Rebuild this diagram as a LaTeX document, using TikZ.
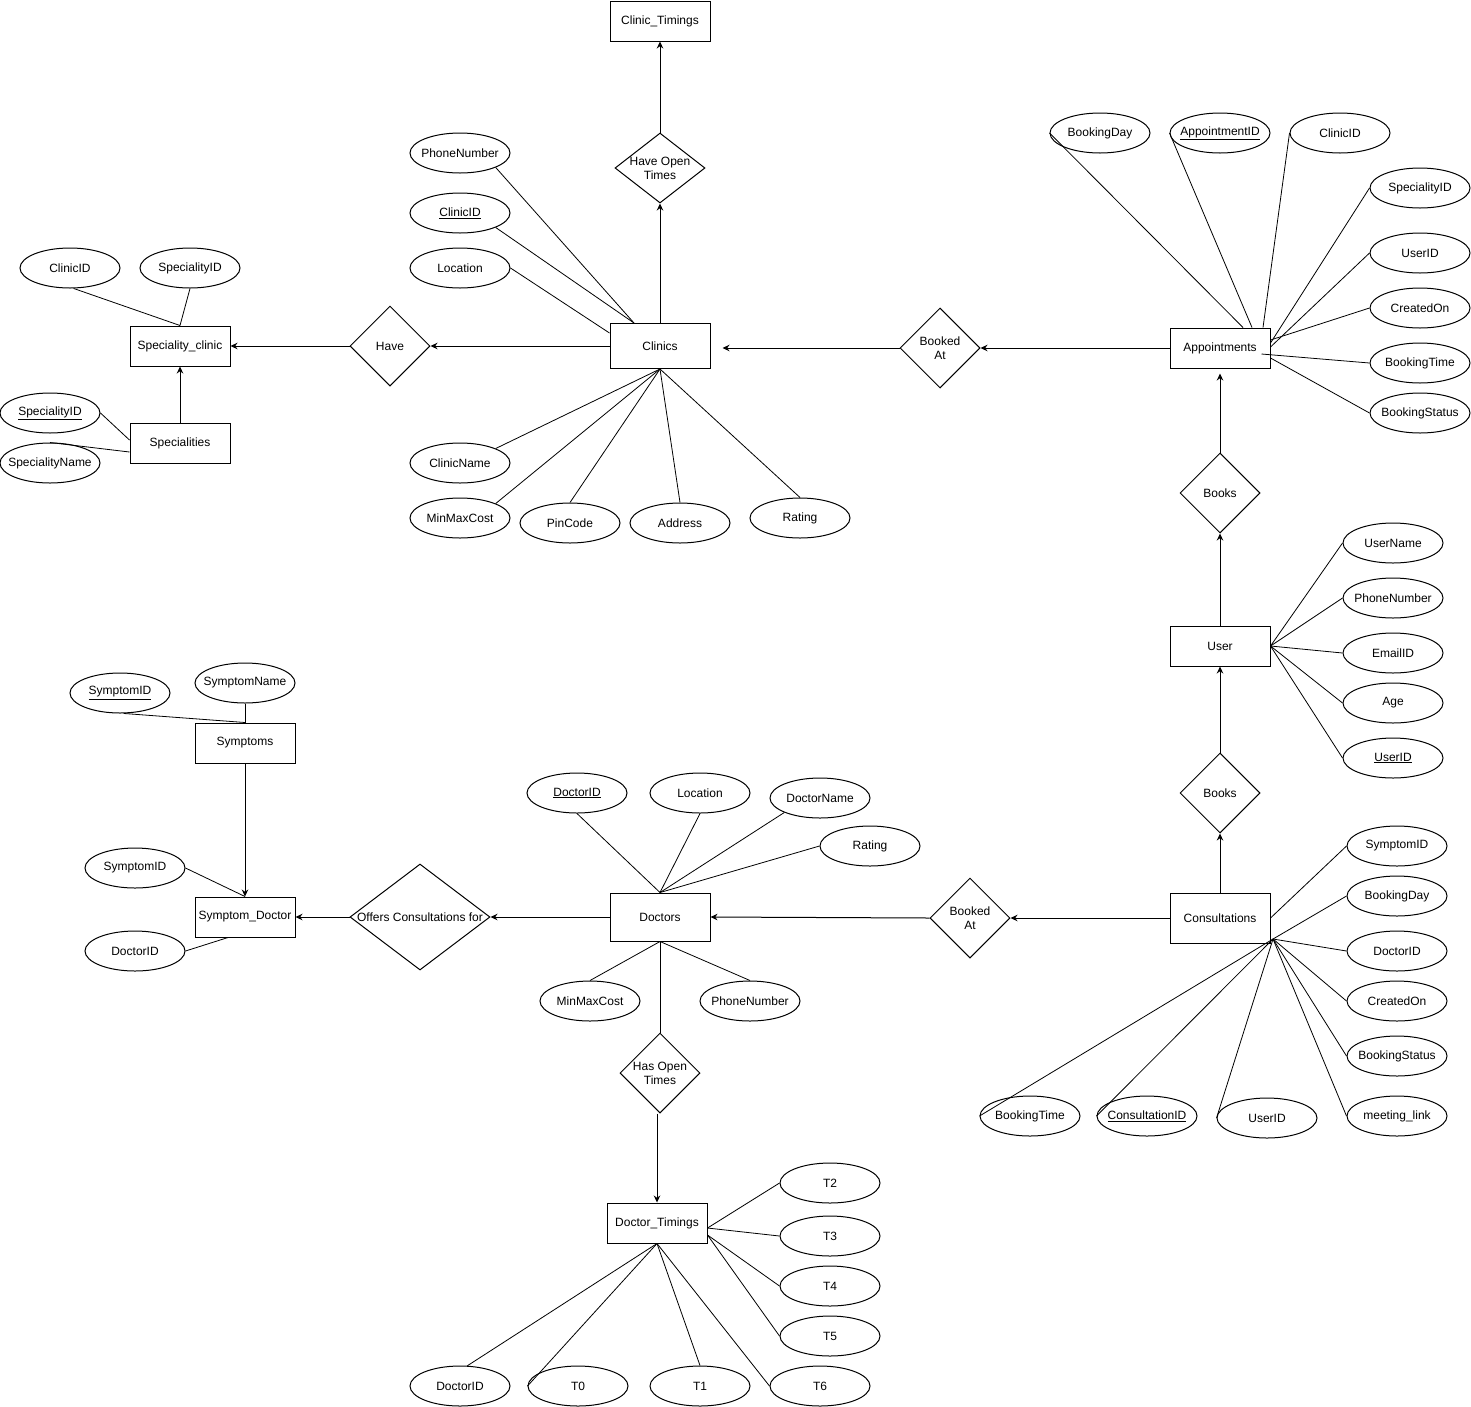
\documentclass[tikz,border=0pt]{standalone}
\usepackage{fontspec}
\setmainfont{Liberation Sans}
\usetikzlibrary{
    shapes.geometric,
    arrows.meta
}
\tikzset{
  every path/.style={
    black,
    line width=0.8pt
  },
  entity/.style={draw, rectangle, line width=1pt, minimum width=100pt, minimum height=40pt, inner sep=0pt},
  attr/.style={draw, ellipse, line width=1pt, minimum width=100pt, minimum height=40pt, inner ysep=0pt, inner xsep=-15pt},
  rel/.style={draw, diamond, line width=1pt, minimum width=80pt, minimum height=80pt, inner sep=0pt},
  arr/.style={-{Stealth[length=7pt,width=6.5pt]}, line width=1pt}
}

\begin{document}
\begin{tikzpicture}[x=1pt,y=-1pt,font=\fontsize{12}{14}\selectfont]
    \useasboundingbox (0,0) rectangle (1471,1406);

    % clinics
    \node[entity] (clinicTimings) at (660,21) {Clinic\_Timings};
    \node[rel, minimum width=90pt, minimum height=70pt, label={[align=center]center:Have Open\\Times}] (haveOpen) at (660,168) {};
    \node[entity, minimum height=45pt] (clinics) at (660,346) {Clinics};
    \node[attr] (clPhone) at (460,153) {PhoneNumber};
    \node[attr] (clId) at (460,213) {\underline{ClinicID}};
    \node[attr] (clLoc) at (460,268) {Location};
    \node[attr] (clName) at (460,463) {ClinicName};
    \node[attr] (clCost) at (460,518) {MinMaxCost};
    \node[attr] (clPin) at (570,523) {PinCode};
    \node[attr] (clAddr) at (680,523) {Address};
    \node[attr] (clRating) at (800,518) {Rating};

    % specialities
    \node[rel, label=center:Have] (have) at (390,346) {};
    \node[entity] (specClinic) at (180,346) {Speciality\_clinic};
    \node[entity] (specs) at (180,443) {Specialities};
    \node[attr] (scClinicId) at (70,268) {ClinicID};
    \node[attr] (scSpecId) at (190,268) {SpecialityID};
    \node[attr] (spId) at (50,413) {\underline{SpecialityID}};
    \node[attr] (spName) at (50,463) {SpecialityName};

    % appointments
    \node[rel, label={[align=center]center:Booked\\At}] (bookedClinic) at (940,348) {};
    \node[entity] (appts) at (1220,348) {Appointments};
    \node[attr] (apDay) at (1100,133) {BookingDay};
    \node[attr] (apId) at (1220,133) {\underline{AppointmentID}};
    \node[attr] (apClinic) at (1340,133) {ClinicID};
    \node[attr] (apSpec) at (1420,188) {SpecialityID};
    \node[attr] (apUser) at (1420,253) {UserID};
    \node[attr] (apCreated) at (1420,308) {CreatedOn};
    \node[attr] (apTime) at (1420,363) {BookingTime};
    \node[attr] (apStatus) at (1420,413) {BookingStatus};

    % user
    \node[rel, label=center:Books] (booksAppt) at (1220,493) {};
    \node[entity] (user) at (1220,646) {User};
    \node[attr] (usName) at (1393,543) {UserName};
    \node[attr] (usPhone) at (1393,598) {PhoneNumber};
    \node[attr] (usEmail) at (1393,653) {EmailID};
    \node[attr] (usAge) at (1393,703) {Age};
    \node[attr] (usId) at (1393,758) {\underline{UserID}};
    \node[rel, label=center:Books] (booksCons) at (1220,793) {};

    % consultations
    \node[entity, minimum height=50pt] (cons) at (1220,918) {Consultations};
    \coordinate (consHub) at (1273,939);
    \node[attr] (csSymptom) at (1397,846) {SymptomID};
    \node[attr] (csDay) at (1397,896) {BookingDay};
    \node[attr] (csDoctor) at (1397,951) {DoctorID};
    \node[attr] (csCreated) at (1397,1001) {CreatedOn};
    \node[attr] (csStatus) at (1397,1056) {BookingStatus};
    \node[attr] (csLink) at (1397,1116) {meeting\_link};
    \node[attr] (csUser) at (1267,1118) {UserID};
    \node[attr] (csId) at (1147,1116) {\underline{ConsultationID}};
    \node[attr] (csTime) at (1030,1116) {BookingTime};
    \node[rel, label={[align=center]center:Booked\\At}] (bookedDoctor) at (970,918) {};

    % doctors
    \node[entity, minimum height=48pt] (doctors) at (660,917) {Doctors};
    \node[attr] (drId) at (577,793) {\underline{DoctorID}};
    \node[attr] (drLoc) at (700,793) {Location};
    \node[attr] (drName) at (820,798) {DoctorName};
    \node[attr] (drRating) at (870,846) {Rating};
    \node[attr] (drCost) at (590,1001) {MinMaxCost};
    \node[attr] (drPhone) at (750,1001) {PhoneNumber};
    \node[rel, label={[align=center]center:Has Open\\Times}] (hasOpen) at (660,1073) {};
    \node[entity] (docTimings) at (657,1223) {Doctor\_Timings};
    \node[attr] (dtId) at (460,1386) {DoctorID};
    \node[attr] (dtT0) at (578,1386) {T0};
    \node[attr] (dtT1) at (700,1386) {T1};
    \node[attr] (dtT6) at (820,1386) {T6};
    \node[attr] (dtT2) at (830,1183) {T2};
    \node[attr] (dtT3) at (830,1236) {T3};
    \node[attr] (dtT4) at (830,1286) {T4};
    \node[attr] (dtT5) at (830,1336) {T5};

    % symptoms
    \node[entity] (symptoms) at (245,743) {Symptoms};
    \node[attr] (syId) at (120,693) {\underline{SymptomID}};
    \node[attr] (syName) at (245,683) {SymptomName};
    \node[entity] (symDoc) at (245,917) {Symptom\_Doctor};
    \node[attr] (sdSymptom) at (135,868) {SymptomID};
    \node[attr] (sdDoctor) at (135,951) {DoctorID};
    \node[rel, minimum width=140pt, minimum height=106pt, label=center:Offers Consultations for] (offers) at (420,917) {};

    % relationships
    \draw[arr] (specs.north) -- (specClinic.south);
    \draw[arr] (have.west) -- (specClinic.east);
    \draw[arr] (clinics.west) -- (have.east);
    \draw[arr] (clinics.north) -- (haveOpen.south);
    \draw[arr] (haveOpen.north) -- (clinicTimings.south);
    \draw[arr, shorten >=12pt] (bookedClinic.west) -- (bookedClinic.west -| clinics.east);
    \draw[arr] (appts.west) -- (bookedClinic.east);
    \draw[arr, shorten >=5pt] (booksAppt.north) -- (appts.south);
    \draw[arr] (user.north) -- (booksAppt.south);
    \draw[arr] (booksCons.north) -- (user.south);
    \draw[arr] (cons.north) -- (booksCons.south);
    \draw[arr] (cons.west) -- (bookedDoctor.east);
    \draw[arr] (bookedDoctor.west) -- (doctors.east);
    \draw[arr] (doctors.west) -- (offers.east);
    \draw[arr] (offers.west) -- (symDoc.east);
    \draw[arr] (symptoms.south) -- (symDoc.north);
    \draw[line width=1pt] (doctors.south) -- (hasOpen.north);
    \draw[arr] (hasOpen.south -| docTimings.north) -- (docTimings.north);

    % attributes
    \draw (scClinicId.-80) -- (specClinic.north);
    \draw (scSpecId.south) -- (specClinic.north);
    \draw (spId.east) -- ([yshift=3pt]specs.west);
    \draw (spName.north) -- ([yshift=-9pt]specs.west);

    \draw (clPhone.south east) -- ([xshift=-26pt]clinics.north);
    \draw (clId.south east) -- ([xshift=-26pt]clinics.north);
    \draw (clLoc.east) -- ([yshift=13pt]clinics.west);
    \draw (clName.north east) -- (clinics.south);
    \draw (clCost.north east) -- (clinics.south);
    \draw (clPin.north) -- (clinics.south);
    \draw (clAddr.north) -- (clinics.south);
    \draw (clRating.north) -- (clinics.south);

    \draw (apDay.west) -- ([xshift=23pt]appts.north);
    \draw (apId.west) -- ([xshift=32pt]appts.north);
    \draw (apClinic.west) -- ([xshift=43pt]appts.north);
    \draw (apSpec.west) -- ([yshift=5pt]appts.east);
    \draw (apUser.west) -- ([yshift=1pt]appts.east);
    \draw (apCreated.west) -- ([yshift=8pt]appts.east);
    \draw (apTime.west) -- ([xshift=-9pt,yshift=-6pt]appts.east);
    \draw (apStatus.west) -- ([yshift=-10pt]appts.east);

    \draw (usName.west) -- (user.east);
    \draw (usPhone.west) -- (user.east);
    \draw (usEmail.west) -- (user.east);
    \draw (usAge.west) -- (user.east);
    \draw (usId.west) -- (user.east);

    \draw (csSymptom.west) -- (cons.east);
    \draw (csDay.west) -- (consHub);
    \draw (csDoctor.west) -- (consHub);
    \draw (csCreated.west) -- (consHub);
    \draw (csStatus.west) -- (consHub);
    \draw (csLink.west) -- (consHub);
    \draw (csUser.west) -- (consHub);
    \draw (csId.west) -- (consHub);
    \draw (csTime.west) -- (consHub);

    \draw (drId.south) -- (doctors.north);
    \draw (drLoc.south) -- (doctors.north);
    \draw (drName.south west) -- (doctors.north);
    \draw (drRating.west) -- (doctors.north);
    \draw (drCost.north) -- (doctors.south);
    \draw (drPhone.north) -- (doctors.south);

    \draw (dtT2.west) -- ([yshift=-5pt]docTimings.east);
    \draw (dtT3.west) -- ([yshift=-5pt]docTimings.east);
    \draw (dtT4.west) -- ([yshift=-12pt]docTimings.east);
    \draw (dtT5.west) -- ([yshift=-12pt]docTimings.east);
    \draw (dtId.70) -- (docTimings.south);
    \draw (dtT0.west) -- (docTimings.south);
    \draw (dtT1.north) -- (docTimings.south);
    \draw (dtT6.west) -- (docTimings.south);

    \draw (syId.-80) -- (symptoms.north);
    \draw (syName.south) -- (symptoms.north);
    \draw (sdSymptom.east) -- (symDoc.north);
    \draw (sdDoctor.east) -- ([xshift=-17pt]symDoc.south);
\end{tikzpicture}
\end{document}
